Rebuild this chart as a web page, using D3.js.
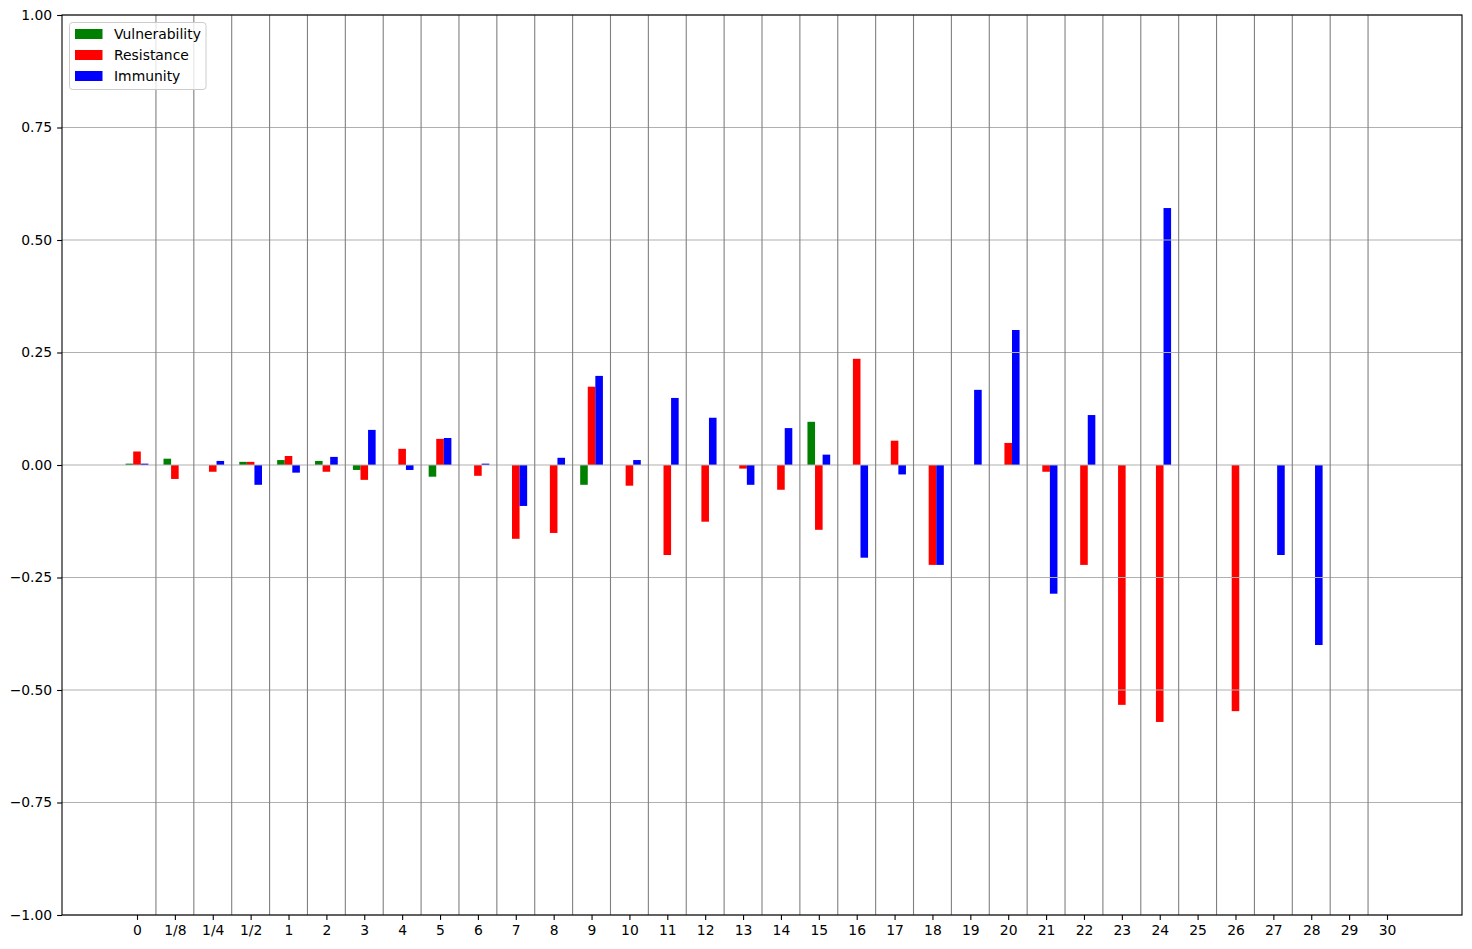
<!DOCTYPE html>
<html>
<head>
<meta charset="utf-8">
<script src="https://cdn.jsdelivr.net/npm/d3@7"></script>
<style>
  body { margin: 0; background: #fff; }
  svg text { font-family: "DejaVu Sans", sans-serif; font-size: 13.9px; fill: #000; }
</style>
</head>
<body>
<div id="chart"></div>
<script>
var categories = ["0", "1/8", "1/4", "1/2", "1", "2", "3", "4", "5", "6", "7", "8", "9", "10",
    "11", "12", "13", "14", "15", "16", "17", "18", "19", "20", "21", "22", "23", "24", "25",
    "26", "27", "28", "29", "30"];

var vulnerability = [0.003, 0.014, 0, 0.007, 0.011, 0.009, -0.011, 0, -0.026, 0, 0, 0, -0.044, 0,
    0, 0, 0, 0, 0.096, 0, 0, 0, 0, 0, 0, 0, 0, 0, 0, 0, 0, 0, 0, 0];

var resistance = [0.03, -0.031, -0.015, 0.007, 0.02, -0.015, -0.033, 0.036, 0.058, -0.024, -0.164,
    -0.151, 0.174, -0.046, -0.2, -0.126, -0.008, -0.055, -0.144, 0.236, 0.054, -0.222, 0, 0.049,
    -0.015, -0.222, -0.533, -0.571, 0, -0.547, 0, 0, 0, 0];

var immunity = [0.003, 0, 0.009, -0.044, -0.017, 0.018, 0.078, -0.011, 0.06, 0.003, -0.091, 0.016,
    0.198, 0.011, 0.149, 0.105, -0.044, 0.082, 0.023, -0.206, -0.021, -0.222, 0.167, 0.3, -0.286,
    0.111, 0, 0.571, 0, 0, -0.2, -0.4, 0, 0];

var seriesNames = ["Vulnerability", "Resistance", "Immunity"];
var seriesColors = ["#008000", "#ff0000", "#0000ff"];
var yTicks = [-1, -0.75, -0.5, -0.25, 0, 0.25, 0.5, 0.75, 1];

var series = [vulnerability, resistance, immunity];

var W = 1472, H = 949;
var plotLeft = 62, plotRight = 1462, plotTop = 15, plotBottom = 915;
var barW = 0.2;

var x = d3.scaleLinear().domain([-1.98, 34.98]).range([plotLeft, plotRight]);
var y = d3.scaleLinear().domain([-1, 1]).range([plotBottom, plotTop]);

var svg = d3.select("#chart").append("svg")
    .attr("width", W)
    .attr("height", H);

// bars (drawn first, grid sits on top like matplotlib)
var bars = svg.append("g").attr("class", "bars");
series.forEach(function(vals, s) {
    bars.selectAll(".bar" + s)
        .data(vals)
        .enter().append("rect")
        .attr("class", "bar" + s)
        .attr("x", function(d, i) { return x(i + (s - 1) * barW - barW / 2); })
        .attr("width", function() { return x(barW) - x(0); })
        .attr("y", function(d) { return y(Math.max(0, d)); })
        .attr("height", function(d) { return Math.abs(y(d) - y(0)); })
        .attr("fill", seriesColors[s]);
});

// horizontal grid
svg.append("g")
    .selectAll("line")
    .data(yTicks)
    .enter().append("line")
    .attr("x1", plotLeft).attr("x2", plotRight)
    .attr("y1", function(d) { return y(d); })
    .attr("y2", function(d) { return y(d); })
    .attr("stroke", "#b0b0b0")
    .attr("stroke-width", 1.1);

// separators between categories
svg.append("g")
    .selectAll("line")
    .data(d3.range(0, categories.length - 1))
    .enter().append("line")
    .attr("x1", function(i) { return x(i + 0.5); })
    .attr("x2", function(i) { return x(i + 0.5); })
    .attr("y1", plotTop).attr("y2", plotBottom)
    .attr("stroke", "#808080")
    .attr("stroke-width", 1.1);

// x axis
var xAxis = d3.axisBottom(x)
    .tickValues(d3.range(categories.length))
    .tickFormat(function(i) { return categories[i]; })
    .tickSize(4.9)
    .tickPadding(4.9)
    .tickSizeOuter(0);
var gx = svg.append("g")
    .attr("transform", "translate(0," + plotBottom + ")")
    .call(xAxis);
gx.select(".domain").remove();
gx.selectAll(".tick line").attr("stroke", "#000").attr("stroke-width", 1.1);
gx.selectAll(".tick text").attr("font-size", null).attr("font-family", null);

// y axis
var yAxis = d3.axisLeft(y)
    .tickValues(yTicks)
    .tickFormat(function(d) { return d3.format(".2f")(d).replace("-", "\u2212"); })
    .tickSize(4.9)
    .tickPadding(4.9);
var gy = svg.append("g")
    .attr("transform", "translate(" + plotLeft + ",0)")
    .call(yAxis);
gy.select(".domain").remove();
gy.selectAll(".tick line").attr("stroke", "#000").attr("stroke-width", 1.1);
gy.selectAll(".tick text").attr("font-size", null).attr("font-family", null);

// frame
svg.append("rect")
    .attr("x", plotLeft).attr("y", plotTop)
    .attr("width", plotRight - plotLeft).attr("height", plotBottom - plotTop)
    .attr("fill", "none")
    .attr("stroke", "#000")
    .attr("stroke-width", 1.1);

// legend
var legend = svg.append("g").attr("transform", "translate(69.5,22.5)");
legend.append("rect")
    .attr("width", 136.5).attr("height", 67)
    .attr("rx", 3).attr("ry", 3)
    .attr("fill", "#fff").attr("fill-opacity", 0.8)
    .attr("stroke", "#cccccc").attr("stroke-width", 1);

var item = legend.selectAll(".item")
    .data(seriesNames)
    .enter().append("g")
    .attr("class", "item")
    .attr("transform", function(d, i) { return "translate(0," + (11.5 + i * 21) + ")"; });
item.append("rect")
    .attr("x", 5.5).attr("y", -5)
    .attr("width", 27.5).attr("height", 10)
    .attr("fill", function(d, i) { return seriesColors[i]; });
item.append("text")
    .attr("x", 44.5)
    .attr("dy", "0.36em")
    .text(function(d) { return d; });
</script>
</body>
</html>
